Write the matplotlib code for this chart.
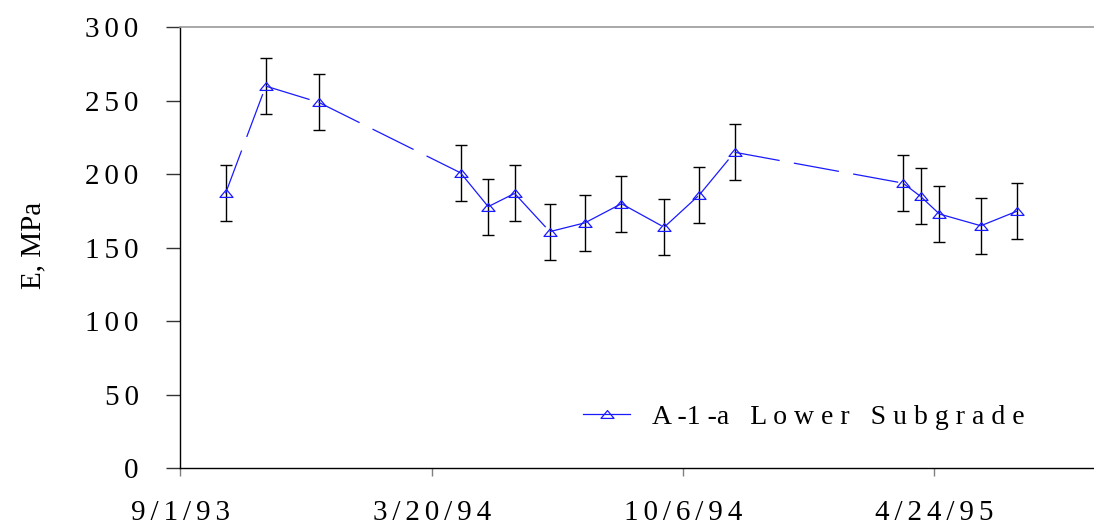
import numpy as np
import matplotlib
matplotlib.use("Agg")
import matplotlib.pyplot as plt
import matplotlib.dates as mdates
from matplotlib.collections import LineCollection
from matplotlib.lines import Line2D
from matplotlib.path import Path

plt.rcParams['font.family'] = ['Liberation Serif', 'DejaVu Serif']
plt.rcParams['lines.scale_dashes'] = False

# test dates and back-calculated modulus, lower subgrade
test_dates = ['1993-10-07', '1993-11-08', '1993-12-20', '1994-04-12', '1994-05-04',
              '1994-05-25', '1994-06-22', '1994-07-20', '1994-08-18', '1994-09-21',
              '1994-10-19', '1994-11-16', '1995-03-30', '1995-04-13', '1995-04-28',
              '1995-05-31', '1995-06-29']
modulus = [187, 260, 249, 201, 178, 187, 161, 167, 180, 164, 186, 215, 194, 185, 173, 165, 175]
modulus_err = [19, 19, 19, 19, 19, 19, 19, 19, 19, 19, 19, 19, 19, 19, 19, 19, 19]

tick_dates = ['1993-09-01', '1994-03-20', '1994-10-06', '1995-04-24']
tick_labels = ['9/1/93', '3/20/94', '10/6/94', '4/24/95']
y_ticks = [0, 50, 100, 150, 200, 250, 300]
series_label = 'A -1 -a   L o w e r   S u b g r a d e'


def spaced(s):
    # letter-spaced numbers, six-per-em space between characters
    return '\u2006'.join(s)


x = mdates.date2num(np.array(test_dates, dtype='datetime64[D]'))
y = np.array(modulus, dtype=float)

fig = plt.figure(figsize=(10.94, 5.29), dpi=100)
ax = fig.add_axes([0.1648, 0.1147, 0.8352, 0.8337])

blue = '#1a1aff'
tri = Path([(-1, -0.6), (1, -0.6), (0, 0.6), (-1, -0.6)],
           [Path.MOVETO, Path.LINETO, Path.LINETO, Path.CLOSEPOLY])

ax.errorbar(x, y, yerr=modulus_err, fmt='none', ecolor='black',
            elinewidth=1.0, capsize=4.5, capthick=1.0, zorder=2)

# each segment gets its own dash pattern, restarting at every point
segs = np.stack([np.column_stack([x[:-1], y[:-1]]),
                 np.column_stack([x[1:], y[1:]])], axis=1)
lc = LineCollection(segs, colors=blue, linewidths=0.9,
                    linestyles=[(0, (33, 10.4))], zorder=3)
ax.add_collection(lc)

ax.plot(x, y, linestyle='none', marker=tri, markersize=9.4,
        markerfacecolor='none', markeredgecolor=blue, markeredgewidth=0.9, zorder=4)

handle = Line2D([], [], color=blue, linewidth=0.9, marker=tri, markersize=9.4,
                markerfacecolor='none', markeredgecolor=blue, markeredgewidth=0.9)
ax.legend([handle], [series_label], loc='center left', bbox_to_anchor=(0.4407, 0.1163),
          frameon=False, fontsize=20, handlelength=1.7, handletextpad=0.8,
          borderpad=0, borderaxespad=0)

ax.set_xlim(mdates.date2num(np.datetime64('1993-09-01')),
            mdates.date2num(np.datetime64('1995-08-29')))
ax.set_ylim(0, 300)

ax.set_xticks(mdates.date2num(np.array(tick_dates, dtype='datetime64[D]')))
ax.set_xticklabels([spaced(t) for t in tick_labels], fontsize=21)
ax.set_yticks(y_ticks)
ax.set_yticklabels([spaced(str(v)) for v in y_ticks], fontsize=21)

ax.tick_params(axis='y', direction='out', length=10, width=1, color='#333333', pad=20)
ax.tick_params(axis='x', direction='out', length=6, width=1, color='#808080', pad=17)

ax.spines['right'].set_visible(False)
ax.spines['top'].set_color('#999999')
ax.spines['top'].set_linewidth(1.2)
for side in ('left', 'bottom'):
    ax.spines[side].set_color('black')
    ax.spines[side].set_linewidth(1.0)

fig.text(33 / 1094, 1 - 245 / 529, 'E, MPa', rotation=90, ha='center', va='center',
         fontsize=21)

fig.savefig('out.png', dpi=100)
